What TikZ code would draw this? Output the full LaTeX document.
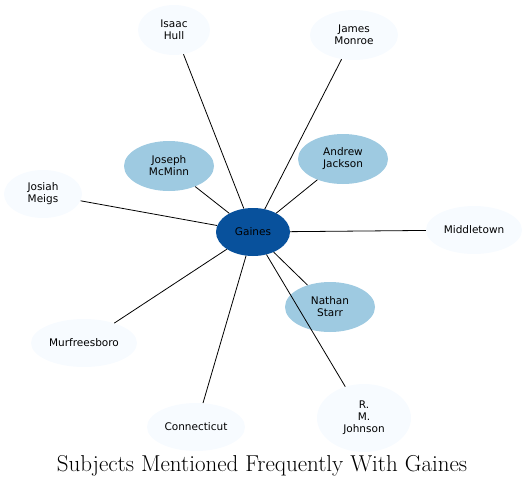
\documentclass[tikz,border=0pt]{standalone}
\usepackage{fontspec}
\usetikzlibrary{shapes.geometric}
\newfontfamily\labelfont{DejaVu Sans}
\definecolor{hub}{HTML}{08519C}
\definecolor{near}{HTML}{9ECAE1}
\definecolor{far}{HTML}{F7FBFF}

\begin{document}
\begin{tikzpicture}[x=1pt,y=-1pt,
  subject/.style={ellipse,inner sep=0pt,align=center,
    font=\labelfont\fontsize{10.5}{12}\selectfont},
  hubnode/.style={subject,fill=hub},
  nearnode/.style={subject,fill=near},
  farnode/.style={subject,fill=far},
  link/.style={draw=black,line width=0.8pt}]
  %\draw (0, 0) grid (528, 488);
  \useasboundingbox (0,0) rectangle (528,488);

  \node[hubnode,minimum width=74,minimum height=48] (gaines) at (253,232) {Gaines};

  \node[nearnode,minimum width=90,minimum height=50] (mcminn)  at (169,166) {Joseph\\McMinn};
  \node[nearnode,minimum width=90,minimum height=50] (jackson) at (343,159) {Andrew\\Jackson};
  \node[nearnode,minimum width=90,minimum height=50] (starr)   at (330,307) {Nathan\\Starr};

  \node[farnode,minimum width=72,minimum height=50]  (hull)        at (174,30)  {Isaac\\Hull};
  \node[farnode,minimum width=88,minimum height=50]  (monroe)      at (354,35)  {James\\Monroe};
  \node[farnode,minimum width=78,minimum height=48]  (meigs)       at (43,194)  {Josiah\\Meigs};
  \node[farnode,minimum width=96,minimum height=48]  (middletown)  at (474,230) {Middletown};
  \node[farnode,minimum width=106,minimum height=48] (murfreesboro) at (84,343) {Murfreesboro};
  \node[farnode,minimum width=98,minimum height=48]  (connecticut) at (196,427) {Connecticut};
  \node[farnode,minimum width=94,minimum height=68]  (johnson)     at (364,418) {R.\\M.\\Johnson};

  % links from the hub
  \foreach \s in {mcminn,jackson,starr,hull,monroe,meigs,middletown,murfreesboro,connecticut,johnson}
    \path[link] (gaines) -- (\s);

  \node (title) at (262,466) {\fontsize{23}{27}\selectfont Subjects Mentioned Frequently With Gaines};
\end{tikzpicture}
\end{document}
